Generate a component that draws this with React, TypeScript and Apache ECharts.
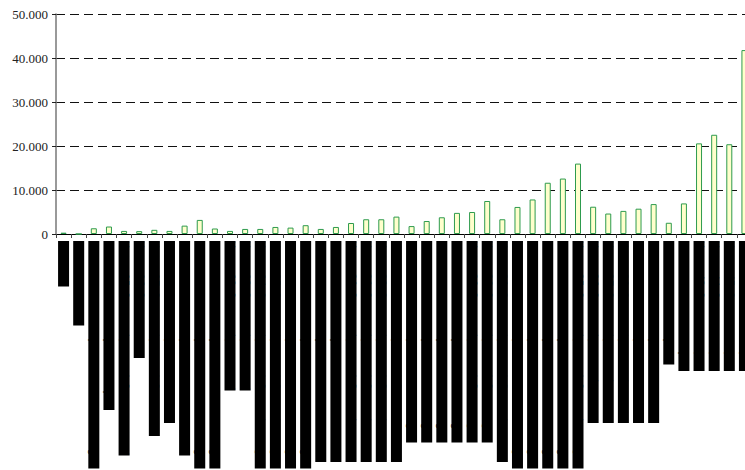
import React, { useEffect, useRef } from "react";
import * as echarts from "echarts";

const categories: string[] = [
  "Kat. 01",
  "Kat. 02 lorem",
  "Kat. 03 lorem ipsum dolor sit magna",
  "Kat. 04 lorem ipsum tempor",
  "Kat. 05 lorem ipsum dolor nostrud",
  "Kat. 06 lorem amet",
  "Kat. 07 lorem ipsum dolor amet",
  "Kat. 08 lorem ipsum sit amet",
  "Kat. 09 lorem ipsum dolor nostrud",
  "Kat. 10 lorem ipsum dolor sit magna",
  "Kat. 11 lorem ipsum dolor sit magna",
  "Kat. 12 lorem ipsum sed",
  "Kat. 13 lorem ipsum sed",
  "Kat. 14 lorem ipsum dolor sit magna",
  "Kat. 15 lorem ipsum dolor sit magna",
  "Kat. 16 lorem ipsum dolor sit magna",
  "Kat. 17 lorem ipsum dolor sit magna",
  "Kat. 18 lorem ipsum dolor sit amet",
  "Kat. 19 lorem ipsum dolor sit amet",
  "Kat. 20 lorem ipsum dolor sit amet",
  "Kat. 21 lorem ipsum dolor sit amet",
  "Kat. 22 lorem ipsum dolor sit amet",
  "Kat. 23 lorem ipsum dolor sit amet",
  "Kat. 24 lorem ipsum dolor magna",
  "Kat. 25 lorem ipsum dolor magna",
  "Kat. 26 lorem ipsum dolor magna",
  "Kat. 27 lorem ipsum dolor magna",
  "Kat. 28 lorem ipsum dolor magna",
  "Kat. 29 lorem ipsum dolor magna",
  "Kat. 30 lorem ipsum dolor sit amet",
  "Kat. 31 lorem ipsum dolor sit magna",
  "Kat. 32 lorem ipsum dolor sit magna",
  "Kat. 33 lorem ipsum dolor sit magna",
  "Kat. 34 lorem ipsum dolor sit magna",
  "Kat. 35 lorem ipsum dolor sit magna",
  "Kat. 36 lorem ipsum sit amet",
  "Kat. 37 lorem ipsum sit amet",
  "Kat. 38 lorem ipsum sit amet",
  "Kat. 39 lorem ipsum sit amet",
  "Kat. 40 lorem ipsum sit amet",
  "Kat. 41 lorem ipsum",
  "Kat. 42 lorem tempor",
  "Kat. 43 lorem tempor",
  "Kat. 44 lorem tempor",
  "Kat. 45 lorem tempor",
  "Kat. 46 lorem tempor",
];

const values: number[] = [
  300, 0, 1300, 1700, 700, 650, 950, 700, 1900, 3200,
  1250, 700, 1150, 1150, 1600, 1450, 2000, 1150, 1600, 2500,
  3350, 3350, 3950, 1800, 2950, 3800, 4800, 5000, 7500, 3350,
  6150, 7850, 11650, 12600, 16000, 6200, 4650, 5250, 5750, 6800,
  2550, 6950, 20600, 22550, 20400, 41800,
];

const yMin = 0;
const yMax = 50000;
const yStep = 10000;

function formatDe(v: number): string {
  return String(Math.round(v)).replace(/\B(?=(\d{3})+(?!\d))/g, ".");
}

export default function App() {
  const ref = useRef<HTMLDivElement>(null);

  useEffect(() => {
    if (!ref.current) return;
    const chart = echarts.init(ref.current, undefined, { renderer: "svg" });
    chart.setOption({
      animation: false,
      backgroundColor: "#ffffff",
      grid: {
        left: 56,
        top: 14,
        width: 696,
        height: 220,
        containLabel: false,
        outerBoundsMode: "none",
      },
      xAxis: {
        type: "category",
        data: categories,
        boundaryGap: true,
        axisLine: { show: true, lineStyle: { color: "#000", width: 1 } },
        axisTick: { show: true, length: 4, lineStyle: { color: "#444" } },
        axisLabel: {
          interval: 0,
          rotate: -90,
          margin: 7,
          fontFamily: "DejaVu Sans Mono",
          fontSize: 10.8,
          lineHeight: 11,
          color: "#000",
          backgroundColor: "#000",
          padding: 0,
        },
        splitLine: { show: false },
      },
      yAxis: {
        type: "value",
        min: yMin,
        max: yMax,
        interval: yStep,
        axisLine: { show: true, lineStyle: { color: "#777", width: 1.5 } },
        axisTick: { show: true, length: 4, lineStyle: { color: "#222" } },
        axisLabel: {
          margin: 8,
          fontFamily: "Liberation Serif",
          fontSize: 13,
          color: "#222",
          formatter: (v: number) => formatDe(v),
        },
        splitLine: {
          show: true,
          lineStyle: { color: "#111", width: 1, type: [9, 5] },
        },
      },
      series: [
        {
          type: "bar",
          data: values,
          barWidth: 6,
          itemStyle: {
            color: "#ffffcc",
            borderColor: "#2e9b4e",
            borderWidth: 1,
          },
        },
      ],
    });
    return () => chart.dispose();
  }, []);

  return (
    <div
      style={{
        position: "fixed",
        left: 0,
        top: 0,
        width: 745,
        height: 470,
        overflow: "hidden",
        background: "#fff",
      }}
    >
      <div ref={ref} style={{ width: 760, height: 470 }} />
    </div>
  );
}
